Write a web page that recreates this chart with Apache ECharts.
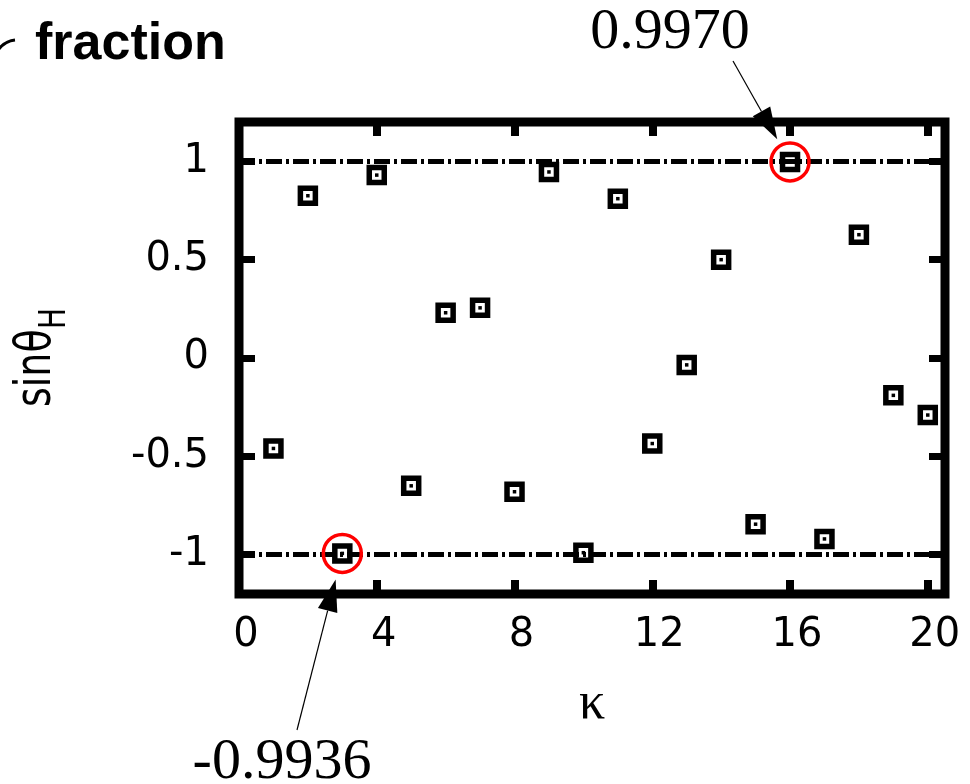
<!DOCTYPE html>
<html>
<head>
<meta charset="utf-8">
<script src="https://cdn.jsdelivr.net/npm/echarts@6/dist/echarts.min.js"></script>
<style>
html, body { margin: 0; padding: 0; background: #fff; }
#chart { width: 970px; height: 784px; }
</style>
</head>
<body>
<div id="chart"></div>
<script>
// data
var kappa = [1, 2, 3, 4, 5, 6, 7, 8, 9, 10, 11, 12, 13, 14, 15, 16, 17, 18, 19, 20];
var sinTheta = [-0.46, 0.825, -0.9936, 0.93, -0.65, 0.23, 0.255, -0.68, 0.946, -0.99,
                0.81, -0.435, -0.035, 0.5, -0.845, 0.997, -0.92, 0.627, -0.19, -0.29];
var xTicks = [0, 4, 8, 12, 16, 20];
var yTicks = [-1, -0.5, 0, 0.5, 1];
var refLevels = [1, -1];
var marked = [16, 3]; // kappa of the circled points

var points = kappa.map(function (k, i) { return [k, sinTheta[i]]; });
var circled = marked.map(function (k) { return [k, sinTheta[kappa.indexOf(k)]]; });

var chart = echarts.init(document.getElementById('chart'));

var tickFont = { fontFamily: 'DejaVu Sans', fontSize: 40, color: '#000' };

function xAxisOpt(pos, showLabel) {
  return {
    type: 'value', position: pos, min: 0, max: 20.5,
    axisLine: { show: false, onZero: false },
    splitLine: { show: false },
    axisTick: { show: true, inside: true, length: 14, customValues: xTicks,
                lineStyle: { color: '#000', width: 8 } },
    axisLabel: Object.assign({ show: showLabel, margin: 22, customValues: xTicks,
                padding: [0, 0, 0, 14] }, tickFont)
  };
}
function yAxisOpt(pos, showLabel) {
  return {
    type: 'value', position: pos, min: -1.2, max: 1.2,
    axisLine: { show: false, onZero: false },
    splitLine: { show: false },
    axisTick: { show: true, inside: true, length: 16, customValues: yTicks,
                lineStyle: { color: '#000', width: 7 } },
    axisLabel: Object.assign({ show: showLabel, margin: 30, customValues: yTicks }, tickFont)
  };
}

var xMain = xAxisOpt('bottom', true);
xMain.name = 'κ';
xMain.nameLocation = 'middle';
xMain.nameGap = 84;
xMain.nameTextStyle = { fontFamily: 'Liberation Serif', fontSize: 52, color: '#000' };

chart.setOption({
  animation: false,
  backgroundColor: '#fff',
  grid: {
    left: 239, top: 122, right: 25, bottom: 190,
    show: true, borderWidth: 9, borderColor: '#000', backgroundColor: 'transparent'
  },
  xAxis: [xMain, xAxisOpt('top', false)],
  yAxis: [yAxisOpt('left', true), yAxisOpt('right', false)],
  series: [
    {
      type: 'scatter', data: points, symbol: 'rect', symbolSize: 15,
      itemStyle: { color: '#fff', borderColor: '#000', borderWidth: 5.5, opacity: 1 },
      z: 3
    },
    {
      type: 'scatter', data: points, symbol: 'rect', symbolSize: 3.5,
      itemStyle: { color: '#000', opacity: 1 },
      z: 4,
      markLine: {
        silent: true, symbol: 'none', label: { show: false },
        lineStyle: { color: '#000', width: 5, type: [16, 4, 3, 4], cap: 'butt' },
        data: refLevels.map(function (v) { return { yAxis: v }; })
      }
    },
    {
      type: 'scatter', data: circled, symbol: 'circle', symbolSize: 38,
      itemStyle: { color: 'rgba(0,0,0,0)', borderColor: '#ff0000', borderWidth: 3.5, opacity: 1 },
      z: 5
    }
  ]
});

// annotations with arrows pointing at the circled points
function arrow(tail, center, gap) {
  var dx = tail[0] - center[0], dy = tail[1] - center[1];
  var d = Math.sqrt(dx * dx + dy * dy);
  var ux = dx / d, uy = dy / d;
  var tip = [center[0] + ux * gap, center[1] + uy * gap];
  var base = [tip[0] + ux * 32, tip[1] + uy * 32];
  var px = -uy, py = ux;
  return [
    { type: 'line', shape: { x1: tail[0], y1: tail[1], x2: base[0], y2: base[1] },
      style: { stroke: '#000', lineWidth: 1.2 } },
    { type: 'polygon',
      shape: { points: [tip, [base[0] + px * 10, base[1] + py * 10], [base[0] - px * 10, base[1] - py * 10]] },
      style: { fill: '#000' } }
  ];
}

var pTop = chart.convertToPixel({ seriesIndex: 0 }, circled[0]);
var pBot = chart.convertToPixel({ seriesIndex: 0 }, circled[1]);
var annoFont = { fontFamily: 'Liberation Serif', fontSize: 58, fill: '#000' };

var graphics = [
  { type: 'text', x: 670, y: 33,
    style: Object.assign({ text: circled[0][1].toFixed(4), align: 'center', verticalAlign: 'middle' }, annoFont) },
  { type: 'text', x: 282, y: 763,
    style: Object.assign({ text: circled[1][1].toFixed(4), align: 'center', verticalAlign: 'middle' }, annoFont) },
  { type: 'text', x: 35, y: 45,
    style: { text: 'fraction', fontFamily: 'Liberation Sans', fontWeight: 'bold', fontSize: 52,
             fill: '#000', align: 'left', verticalAlign: 'middle' } },
  { type: 'bezierCurve', shape: { x1: -2, y1: 50, cpx1: 5, cpy1: 41, x2: 15, y2: 40 },
    style: { stroke: '#000', lineWidth: 3, fill: null } },
  { type: 'group', x: 37, y: 407, rotation: Math.PI / 2, scaleY: 1.3,
    children: [
      { type: 'text', x: 0, y: 0,
        style: { text: 'sinθ', fontFamily: 'DejaVu Sans', fontSize: 38, fill: '#000',
                 align: 'left', verticalAlign: 'middle' } },
      { type: 'text', x: 78, y: 14,
        style: { text: 'H', fontFamily: 'DejaVu Sans', fontSize: 28, fill: '#000',
                 align: 'left', verticalAlign: 'middle' } }
    ] }
].concat(arrow([733, 61], pTop, 26), arrow([297, 730], pBot, 27));

chart.setOption({ graphic: graphics });
</script>
</body>
</html>
